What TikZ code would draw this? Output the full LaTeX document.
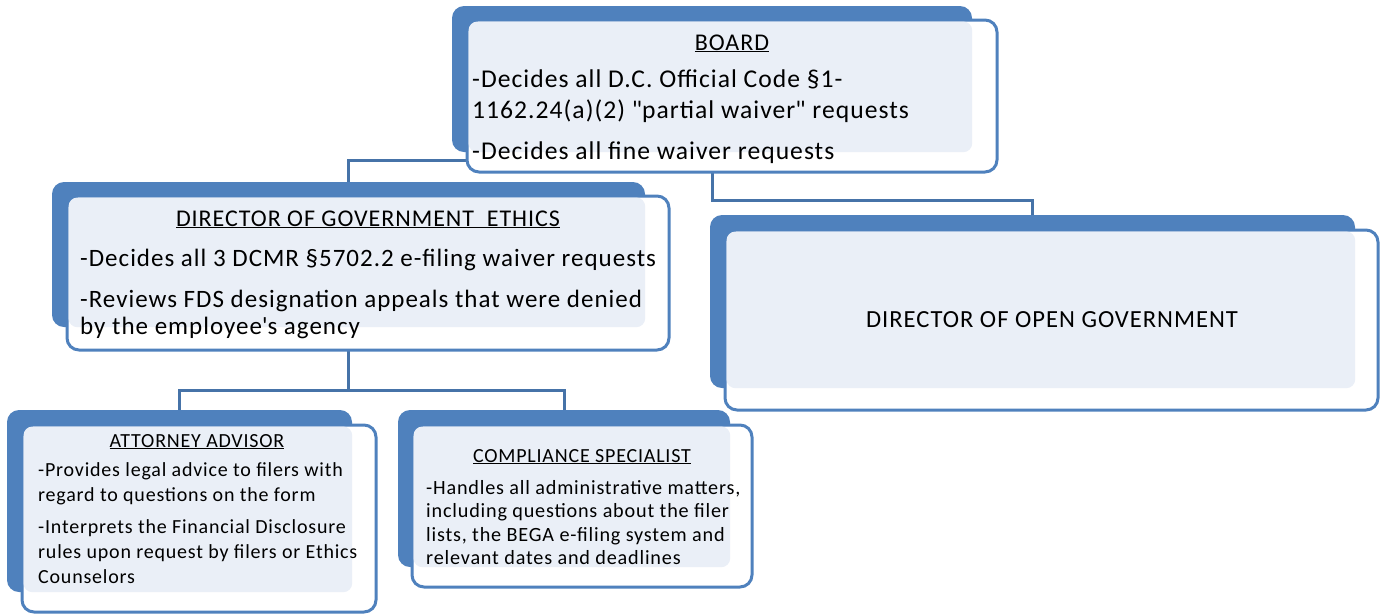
\documentclass[tikz,border=0pt]{standalone}
\usepackage{fontspec}
\setmainfont{Carlito}[LetterSpace=4]
\usetikzlibrary{positioning,backgrounds}
\definecolor{boxblue}{HTML}{4F81BD}
\definecolor{boxlight}{HTML}{EAEFF7}
\definecolor{linkblue}{HTML}{4673A8}
\tikzset{
  backbox/.style={fill=boxblue, rounded corners=12pt, inner sep=0pt},
  frontbox/.style={draw=boxblue, line width=3pt, fill=white, rounded corners=12pt, inner sep=0pt},
  lightbox/.style={fill=boxlight, rounded corners=9pt},
  head/.style={inner sep=0pt, anchor=base},
  body/.style={inner sep=0pt, align=left, anchor=north west},
  link/.style={draw=linkblue, line width=3pt},
}
\begin{document}
\begin{tikzpicture}[x=1pt,y=-1pt]
  \useasboundingbox (0,0) rectangle (1383,614);
  % Board
  \node[backbox, minimum width=520, minimum height=146] (boardback) at (712,79) {};
  \node[frontbox, minimum width=530, minimum height=152] (boardfront) at (732,96) {};
  \fill[lightbox] ([shift={(3,3)}]boardfront.north west) rectangle (boardback.south east);
  \node[head, font=\fontsize{24}{28}\selectfont] (boardhead) at (732,50) {\underline{BOARD}};
  \node[body, font=\fontsize{25.6}{31}\selectfont] (boardtext) at (472,70)
    {-Decides all D.C. Official Code §1-\\1162.24(a)(2) \textquotedbl partial waiver\textquotedbl{} requests\\[10pt]-Decides all fine waiver requests};
  % Director of Government Ethics
  \node[backbox, minimum width=593, minimum height=145] (dgeback) at (348.5,254.5) {};
  \node[frontbox, minimum width=602, minimum height=154] (dgefront) at (368,273) {};
  \fill[lightbox] ([shift={(3,3)}]dgefront.north west) rectangle (dgeback.south east);
  \node[head, font=\fontsize{24}{28}\selectfont] (dgehead) at (368,226) {\underline{DIRECTOR OF GOVERNMENT\ \ ETHICS}};
  \node[body, font=\fontsize{25}{27}\selectfont] (dgetext) at (80,249)
    {-Decides all 3 DCMR §5702.2 e-filing waiver requests\\[14pt]-Reviews FDS designation appeals that were denied\\by the employee\textquotesingle s agency};
  % Director of Open Government
  \node[backbox, minimum width=645, minimum height=173] (dogback) at (1032.5,301.5) {};
  \node[frontbox, minimum width=653, minimum height=180] (dogfront) at (1051.5,320) {};
  \fill[lightbox] ([shift={(3,3)}]dogfront.north west) rectangle (dogback.south east);
  \node[font=\fontsize{24.6}{28}\selectfont, inner sep=0pt] (dogtext) at (1052,320) {DIRECTOR OF OPEN GOVERNMENT};
  % Attorney Advisor
  \node[backbox, minimum width=345, minimum height=182] (attback) at (179.5,501) {};
  \node[frontbox, minimum width=354, minimum height=187] (attfront) at (199,518.5) {};
  \fill[lightbox] ([shift={(3,3)}]attfront.north west) rectangle (attback.south east);
  \node[head, font=\fontsize{20}{24}\selectfont] (atthead) at (197,447) {\underline{ATTORNEY ADVISOR}};
  \node[body, font=\fontsize{20}{25}\selectfont] (atttext) at (38,462)
    {-Provides legal advice to filers with\\regard to questions on the form\\[7pt]-Interprets the Financial Disclosure\\rules upon request by filers or Ethics\\Counselors};
  % Compliance Specialist
  \node[backbox, minimum width=332, minimum height=157] (compback) at (564,488.5) {};
  \node[frontbox, minimum width=340, minimum height=162] (compfront) at (582,506) {};
  \fill[lightbox] ([shift={(3,3)}]compfront.north west) rectangle (compback.south east);
  \node[head, font=\fontsize{20}{24}\selectfont] (comphead) at (582,462) {\underline{COMPLIANCE SPECIALIST}};
  \node[body, font=\fontsize{20.2}{23.5}\selectfont] (comptext) at (426,480)
    {-Handles all administrative matters,\\including questions about the filer\\lists, the BEGA e-filing system and\\relevant dates and deadlines};
  % Connectors behind the boxes
  \begin{scope}[on background layer]
    \draw[link] (boardback.center) -- ++(0,81) -| (dgeback.north);
    \draw[link] (boardback.center) -- ++(0,121) -| (dogback.north);
    \draw[link] (dgeback.center) -- ++(0,136) -| (attback.north);
    \draw[link] (dgeback.center) -- ++(0,136) -| (compback.north);
  \end{scope}
\end{tikzpicture}
\end{document}
